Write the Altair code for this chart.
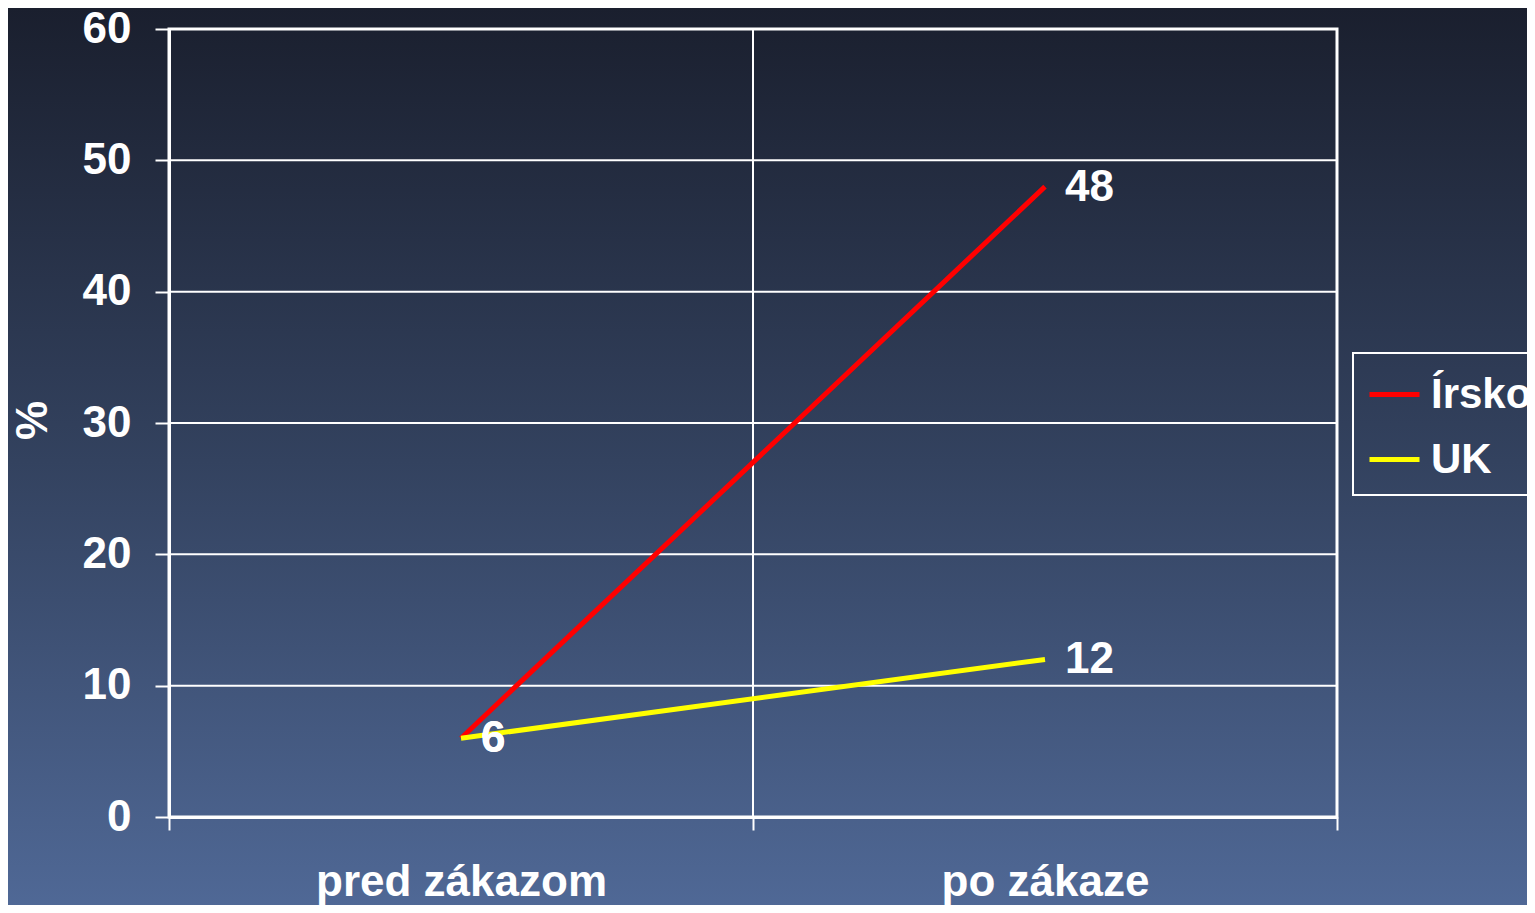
import altair as alt
import pandas as pd

categories = ["pred zákazom", "po zákaze"]
series = ["Írsko", "UK"]
irsko_values = [6, 48]
uk_values = [6, 12]
y_ticks = [0, 10, 20, 30, 40, 50, 60]
colors = ["#ff0000", "#ffff00"]

rows = []
for c, v in zip(categories, irsko_values):
    rows.append({"period": c, "series": "Írsko", "value": v})
for c, v in zip(categories, uk_values):
    rows.append({"period": c, "series": "UK", "value": v})
df = pd.DataFrame(rows)

W, H = 1168, 788
PL, PT, PR, PB = 161, 21, 190, 88
FONT = "Liberation Sans"

xscale = alt.Scale(domain=categories, paddingInner=0, paddingOuter=0)
yscale = alt.Scale(domain=[0, 60], nice=False)

xaxis = alt.Axis(
    tickBand="extent", labelAngle=0, labelFontSize=44, labelFont=FONT,
    labelFontWeight="bold", labelColor="white", labelBaseline="alphabetic",
    labelPadding=65, labelLimit=800, tickSize=13, tickColor="white", tickWidth=2,
    domainColor="white", domainWidth=3, grid=False, zindex=2,
)
yaxis = alt.Axis(
    values=y_ticks, labelFontSize=44, labelFont=FONT, labelFontWeight="bold",
    labelColor="white", labelPadding=24, tickSize=14, tickColor="white",
    tickWidth=2, domainColor="white", domainWidth=3, grid=False, zindex=2,
    titleFontSize=44, titleFont=FONT, titleFontWeight="bold", titleColor="white",
    titleAngle=-90, titleX=-136, titleY=391, titleBaseline="middle", titleAlign="center",
)

grad = alt.LinearGradient(
    gradient="linear",
    stops=[
        alt.GradientStop(color="#1a1f2e", offset=0),
        alt.GradientStop(color="#33425f", offset=0.5),
        alt.GradientStop(color="#506997", offset=1),
    ],
    x1=0, x2=0, y1=0, y2=1,
)

bg = alt.Chart(pd.DataFrame({"a": [0]})).mark_rect(fill=grad, clip=False).encode(
    x=alt.value(-PL), x2=alt.value(W + PR + 10),
    y=alt.value(-PT), y2=alt.value(H + PB + 10),
)

hgrid = alt.Chart(pd.DataFrame({"value": y_ticks[1:-1]})).mark_rule(
    color="white", strokeWidth=2
).encode(y=alt.Y("value:Q", scale=yscale, title="%", axis=yaxis))

vgrid = alt.Chart(pd.DataFrame({"period": categories[1:]})).mark_rule(
    color="white", strokeWidth=2
).encode(x=alt.X("period:N", scale=xscale, sort=categories, bandPosition=0, title=None, axis=xaxis))

border = alt.Chart(pd.DataFrame({"a": [0]})).mark_rect(
    fill=None, stroke="white", strokeWidth=3, clip=False
).encode(x=alt.value(0), x2=alt.value(W), y=alt.value(0), y2=alt.value(H))

lines = alt.Chart(df).mark_line(strokeWidth=5).encode(
    x=alt.X("period:N", scale=xscale, sort=categories, title=None, axis=xaxis),
    y=alt.Y("value:Q", scale=yscale, title="%", axis=yaxis),
    color=alt.Color(
        "series:N", scale=alt.Scale(domain=series, range=colors), sort=series,
        legend=alt.Legend(
            title=None, orient="none", legendX=1184, legendY=324,
            symbolType="stroke", symbolSize=2500, symbolStrokeWidth=5,
            labelFontSize=42, labelFont=FONT, labelFontWeight="bold", labelColor="white",
            labelOffset=9, rowPadding=16, padding=14, strokeColor="white",
            labelLimit=400,
        ),
    ),
)

labels = alt.Chart(df).mark_text(
    align="left", baseline="middle", dx=20, dy=1, fontSize=44, font=FONT,
    fontWeight="bold", color="white",
).encode(
    x=alt.X("period:N", scale=xscale, sort=categories, title=None, axis=xaxis),
    y=alt.Y("value:Q", scale=yscale, title="%", axis=yaxis),
    text=alt.Text("value:Q"),
)

chart = alt.layer(bg, border, hgrid, vgrid, lines, labels).properties(
    width=W, height=H,
    autosize=alt.AutoSizeParams(type="none"),
    padding={"left": PL, "top": PT, "right": PR, "bottom": PB},
    background="#33425f",
).configure_view(stroke=None).configure_legend(
    strokeWidth=2
)

chart.save("out.html", embed_options={"renderer": "svg", "actions": False})
